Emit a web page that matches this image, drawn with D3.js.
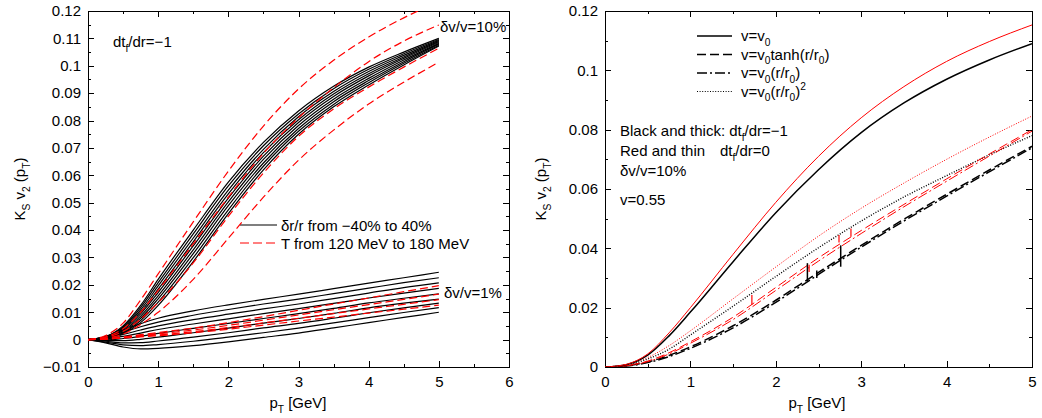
<!DOCTYPE html>
<html><head><meta charset="utf-8">
<script src="https://cdn.jsdelivr.net/npm/d3@7"></script>
<style>
body{margin:0;background:#fff}
svg{display:block}
text{font-family:"Liberation Sans",Arial,Helvetica,sans-serif;fill:#000}
</style>
</head><body>
<svg id="c" width="1042" height="418"></svg>
<script>
// ---------------- DATA ----------------
const pT = [0, 0.25, 0.5, 0.75, 1, 1.5, 2, 2.5, 3, 3.5, 4, 4.5, 5];

// Left panel, dv/v = 10 %, black: dr/r from -40% to 40%
const wideDr_m40 = [0, .0011, .0050, .0125, .0220, .0400, .0575, .0720, .0835, .0925, .0995, .1050, .1100];
const wideDr_m30 = [0, .0010, .0046, .0117, .0208, .0386, .0561, .0708, .0824, .0916, .0987, .1044, .1096];
const wideDr_m20 = [0, .0010, .0043, .0109, .0196, .0371, .0546, .0695, .0814, .0906, .0979, .1038, .1093];
const wideDr_m10 = [0, .0009, .0040, .0101, .0184, .0357, .0532, .0683, .0803, .0897, .0971, .1032, .1089];
const wideDr_0   = [0, .0008, .0036, .0094, .0172, .0342, .0517, .0670, .0793, .0888, .0963, .1027, .1086];
const wideDr_p10 = [0, .0007, .0032, .0086, .0160, .0328, .0503, .0658, .0782, .0878, .0954, .1021, .1082];
const wideDr_p20 = [0, .0007, .0029, .0078, .0149, .0314, .0489, .0645, .0771, .0869, .0946, .1015, .1079];
const wideDr_p30 = [0, .0006, .0025, .0070, .0137, .0299, .0474, .0633, .0761, .0859, .0938, .1009, .1075];
const wideDr_p40 = [0, .0005, .0022, .0062, .0125, .0285, .0460, .0620, .0750, .0850, .0930, .1003, .1072];

// Left panel, dv/v = 10 %, red: T from 120 to 180 MeV
const wideT120 = [0, .0015, .0060, .0145, .0240, .0430, .0615, .0780, .0915, .1020, .1105, .1175, .1235];
const wideT140 = [0, .0010, .0040, .0100, .0180, .0350, .0520, .0680, .0810, .0920, .1015, .1090, .1149];
const wideT160 = [0, .0008, .0030, .0075, .0135, .0280, .0450, .0608, .0742, .0842, .0922, .0995, .1064];
const wideT180 = [0, .0005, .0020, .0055, .0100, .0220, .0370, .0520, .0655, .0765, .0860, .0940, .1013];

// Left panel, dv/v = 1 %, black
const narrowDr_m40 = [0, .0010, .0035, .0058, .0078, .0105, .0127, .0147, .0166, .0186, .0206, .0226, .0246];
const narrowDr_m30 = [0, .0007, .0027, .0047, .0064, .0089, .0110, .0130, .0148, .0168, .0188, .0208, .0226];
const narrowDr_m20 = [0, .0005, .0019, .0035, .0050, .0073, .0093, .0112, .0130, .0150, .0170, .0190, .0207];
const narrowDr_m10 = [0, .0002, .0012, .0024, .0037, .0057, .0076, .0095, .0113, .0132, .0152, .0170, .0187];
const narrowDr_0   = [0, -.0001, .0004, .0012, .0023, .0041, .0059, .0077, .0095, .0114, .0134, .0151, .0167];
const narrowDr_p10 = [0, -.0003, -.0004, .0001, .0009, .0025, .0042, .0060, .0077, .0096, .0116, .0133, .0148];
const narrowDr_p20 = [0, -.0006, -.0012, -.0011, -.0005, .0009, .0025, .0043, .0059, .0078, .0098, .0116, .0133];
const narrowDr_p30 = [0, -.0009, -.0019, -.0022, -.0018, -.0006, .0009, .0025, .0042, .0061, .0080, .0099, .0117];
const narrowDr_p40 = [0, -.0012, -.0027, -.0034, -.0032, -.0022, -.0008, .0008, .0024, .0043, .0062, .0081, .0100];

// Left panel, dv/v = 1 %, red
const narrowT120 = [0, .0003, .0010, .0018, .0026, .0042, .0062, .0084, .0107, .0130, .0152, .0175, .0197];
const narrowT140 = [0, .0003, .0009, .0015, .0021, .0035, .0052, .0071, .0090, .0109, .0128, .0147, .0166];
const narrowT160 = [0, .0002, .0007, .0012, .0017, .0029, .0044, .0061, .0078, .0095, .0112, .0129, .0146];
const narrowT180 = [0, .0002, .0006, .0010, .0014, .0025, .0038, .0053, .0068, .0082, .0097, .0111, .0126];

// Right panel: black thick (dt/dr=-1), red thin (dt/dr=0)
const constThick   = [0, .0008, .0040, .0105, .0185, .0355, .0520, .0665, .0790, .0890, .0970, .1035, .1090];
const tanhThick    = [0, .0004, .0017, .0039, .0068, .0139, .0225, .0319, .0410, .0498, .0582, .0664, .0744];
const linearThick  = [0, .0003, .0015, .0035, .0063, .0132, .0218, .0312, .0404, .0492, .0576, .0658, .0739];
const squareThick  = [0, .0006, .0027, .0060, .0108, .0205, .0305, .0402, .0492, .0573, .0645, .0715, .0780];
const constThin    = [0, .0009, .0044, .0115, .0200, .0380, .0555, .0710, .0840, .0945, .1030, .1097, .1153];
const tanhThin     = [0, .0005, .0020, .0048, .0085, .0168, .0268, .0368, .0460, .0548, .0634, .0718, .0800];
const linearThin   = [0, .0004, .0018, .0044, .0080, .0160, .0258, .0357, .0450, .0540, .0626, .0711, .0795];
const squareThin   = [0, .0008, .0032, .0072, .0122, .0230, .0337, .0441, .0535, .0620, .0700, .0775, .0846];

// numerical glitches (pT, low, high)
const blackGlitches = [[2.37, .0288, .0350], [2.48, .0300, .0325], [2.76, .0338, .0410]];
const redGlitches   = [[1.72, .0210, .0243], [2.39, .0320, .0345], [2.74, .0420, .0445], [2.88, .0439, .0467]];

// ticks
const leftXTicks = [0, 1, 2, 3, 4, 5, 6];
const leftXLabels = ["0", "1", "2", "3", "4", "5", "6"];
const leftXMinor = [0.5, 1.5, 2.5, 3.5, 4.5, 5.5];
const leftYTicks = [-0.01, 0, 0.01, 0.02, 0.03, 0.04, 0.05, 0.06, 0.07, 0.08, 0.09, 0.1, 0.11, 0.12];
const leftYLabels = ["\u22120.01", "0", "0.01", "0.02", "0.03", "0.04", "0.05", "0.06", "0.07", "0.08", "0.09", "0.1", "0.11", "0.12"];
const leftYMinor = [-0.005, 0.005, 0.015, 0.025, 0.035, 0.045, 0.055, 0.065, 0.075, 0.085, 0.095, 0.105, 0.115];
const rightXTicks = [0, 1, 2, 3, 4, 5];
const rightXLabels = ["0", "1", "2", "3", "4", "5"];
const rightXMinor = [0.5, 1.5, 2.5, 3.5, 4.5];
const rightYTicks = [0, 0.02, 0.04, 0.06, 0.08, 0.1, 0.12];
const rightYLabels = ["0", "0.02", "0.04", "0.06", "0.08", "0.1", "0.12"];
const rightYMinor = [0.01, 0.03, 0.05, 0.07, 0.09, 0.11];

// ---------------- DRAW ----------------
const svg = d3.select("#c");
const FS = 15;

function makePanel(cfg) {
  const x = d3.scaleLinear().domain(cfg.xDomain).range([cfg.left, cfg.right]);
  const y = d3.scaleLinear().domain(cfg.yDomain).range([cfg.bottom, cfg.top]);
  svg.append("clipPath").attr("id", cfg.id).append("rect")
    .attr("x", cfg.left).attr("y", cfg.top)
    .attr("width", cfg.right - cfg.left).attr("height", cfg.bottom - cfg.top);
  const g = svg.append("g");
  const style = sel => {
    sel.select(".domain").remove();
    sel.selectAll("line").attr("stroke", "#000").attr("stroke-width", 1).attr("shape-rendering", "crispEdges");
    sel.selectAll("text").attr("font-size", FS).attr("font-family", '"Liberation Sans",Arial,sans-serif').attr("fill", "#000");
    sel.attr("font-size", null).attr("font-family", null);
  };
  const ax = (gen, tx, ty) => g.append("g").attr("transform", `translate(${tx},${ty})`).call(gen).call(style);
  ax(d3.axisBottom(x).tickValues(cfg.xTicks).tickFormat((d, i) => cfg.xLabels[i]).tickSizeInner(-6).tickSizeOuter(0).tickPadding(9), 0, cfg.bottom);
  ax(d3.axisBottom(x).tickValues(cfg.xMinor).tickFormat("").tickSizeInner(-3).tickSizeOuter(0), 0, cfg.bottom);
  ax(d3.axisTop(x).tickValues(cfg.xTicks).tickFormat("").tickSizeInner(-6).tickSizeOuter(0), 0, cfg.top);
  ax(d3.axisTop(x).tickValues(cfg.xMinor).tickFormat("").tickSizeInner(-3).tickSizeOuter(0), 0, cfg.top);
  ax(d3.axisLeft(y).tickValues(cfg.yTicks).tickFormat((d, i) => cfg.yLabels[i]).tickSizeInner(-6).tickSizeOuter(0).tickPadding(7), cfg.left, 0);
  ax(d3.axisLeft(y).tickValues(cfg.yMinor).tickFormat("").tickSizeInner(-3).tickSizeOuter(0), cfg.left, 0);
  ax(d3.axisRight(y).tickValues(cfg.yTicks).tickFormat("").tickSizeInner(-6).tickSizeOuter(0), cfg.right, 0);
  ax(d3.axisRight(y).tickValues(cfg.yMinor).tickFormat("").tickSizeInner(-3).tickSizeOuter(0), cfg.right, 0);
  // remove empty label nodes from label-less axes
  g.selectAll("text").filter(function() { return !this.textContent; }).remove();
  g.append("rect").attr("x", cfg.left).attr("y", cfg.top)
    .attr("width", cfg.right - cfg.left).attr("height", cfg.bottom - cfg.top)
    .attr("fill", "none").attr("stroke", "#000").attr("stroke-width", 1).attr("shape-rendering", "crispEdges");
  const plot = svg.append("g").attr("clip-path", `url(#${cfg.id})`);
  const line = d3.line().x(d => x(d[0])).y(d => y(d[1])).curve(d3.curveMonotoneX);
  const curve = (vals, color, w, dash) => plot.append("path")
    .attr("d", line(pT.map((p, i) => [p, vals[i]])))
    .attr("fill", "none").attr("stroke", color).attr("stroke-width", w)
    .attr("stroke-dasharray", dash || null);
  return {x, y, g, plot, curve};
}

// text with sub/superscripts; baseline restored on the following span
function richText(parent, x, y, parts, size, anchor) {
  const t = parent.append("text").attr("x", x).attr("y", y).attr("font-size", size).attr("text-anchor", anchor || "start");
  let shift = 0;
  parts.forEach(p => {
    if (typeof p === "string") {
      t.append("tspan").attr("dy", -shift || null).text(p);
      shift = 0;
    } else if (p.sub) {
      const d = size * 0.3;
      t.append("tspan").attr("font-size", size * 0.68).attr("dy", d - shift).text(p.sub);
      shift = d;
    } else if (p.sup) {
      const d = -size * 0.45;
      t.append("tspan").attr("font-size", size * 0.68).attr("dy", d - shift).text(p.sup);
      shift = d;
    }
  });
  return t;
}

const RED = "#ff0000";

// ----- Left panel -----
const L = makePanel({id: "clipL", left: 88, right: 509, top: 11, bottom: 367,
  xDomain: [0, 6], yDomain: [-0.01, 0.12],
  xTicks: leftXTicks, xLabels: leftXLabels, xMinor: leftXMinor,
  yTicks: leftYTicks, yLabels: leftYLabels, yMinor: leftYMinor});

[wideDr_m40, wideDr_m30, wideDr_m20, wideDr_m10, wideDr_0, wideDr_p10, wideDr_p20, wideDr_p30, wideDr_p40,
 narrowDr_m40, narrowDr_m30, narrowDr_m20, narrowDr_m10, narrowDr_0, narrowDr_p10, narrowDr_p20, narrowDr_p30, narrowDr_p40]
  .forEach(v => L.curve(v, "#000", 1.2));
[wideT120, wideT140, wideT160, wideT180, narrowT120, narrowT140, narrowT160, narrowT180]
  .forEach(v => L.curve(v, RED, 1.2, "8,4"));

// legend left
L.g.append("line").attr("x1", 240).attr("x2", 277).attr("y1", 225).attr("y2", 225).attr("stroke", "#000").attr("stroke-width", 1.2);
L.g.append("line").attr("x1", 240).attr("x2", 277).attr("y1", 243).attr("y2", 243).attr("stroke", RED).attr("stroke-width", 1.2).attr("stroke-dasharray", "9,4");
richText(L.g, 281, 230.5, ["\u03b4r/r from \u221240% to 40%"], FS);
richText(L.g, 281, 248.5, ["T from 120 MeV to 180 MeV"], FS);
richText(L.g, 113, 47, ["dt", {sub: "f"}, "/dr=\u22121"], FS);
richText(L.g, 440, 32, ["\u03b4v/v=10%"], FS);
richText(L.g, 444, 297.5, ["\u03b4v/v=1%"], FS);
// axis titles
richText(L.g, 298, 408, ["p", {sub: "T"}, " [GeV]"], FS, "middle");
richText(L.g, 0, 0, ["K", {sub: "S"}, " v", {sub: "2"}, " (p", {sub: "T"}, ")"], FS, "middle")
  .attr("transform", "translate(25,189) rotate(-90)");

// ----- Right panel -----
const R = makePanel({id: "clipR", left: 605, right: 1032, top: 11, bottom: 367,
  xDomain: [0, 5], yDomain: [0, 0.12],
  xTicks: rightXTicks, xLabels: rightXLabels, xMinor: rightXMinor,
  yTicks: rightYTicks, yLabels: rightYLabels, yMinor: rightYMinor});

const DASH = "9,4", DASHDOT = "10,3,2,3", DOT = "1,1.6";
R.curve(squareThin, RED, 1, DOT);
R.curve(squareThick, "#000", 1.4, DOT);
R.curve(tanhThick, "#000", 1.5, DASH);
R.curve(linearThick, "#000", 1.5, DASHDOT);
R.curve(tanhThin, RED, 1, DASH);
R.curve(linearThin, RED, 1, DASHDOT);
R.curve(constThick, "#000", 1.5);
R.curve(constThin, RED, 1);
blackGlitches.forEach(d => R.plot.append("line").attr("x1", R.x(d[0])).attr("x2", R.x(d[0]))
  .attr("y1", R.y(d[1])).attr("y2", R.y(d[2])).attr("stroke", "#000").attr("stroke-width", 1.5));
redGlitches.forEach(d => R.plot.append("line").attr("x1", R.x(d[0])).attr("x2", R.x(d[0]))
  .attr("y1", R.y(d[1])).attr("y2", R.y(d[2])).attr("stroke", RED).attr("stroke-width", 1.2));

// legend right
const legRows = [
  {dash: null, y: 36, parts: ["v=v", {sub: "0"}]},
  {dash: DASH, y: 54.5, parts: ["v=v", {sub: "0"}, "tanh(r/r", {sub: "0"}, ")"]},
  {dash: DASHDOT, y: 73, parts: ["v=v", {sub: "0"}, "(r/r", {sub: "0"}, ")"]},
  {dash: DOT, y: 91.5, parts: ["v=v", {sub: "0"}, "(r/r", {sub: "0"}, ")", {sup: "2"}]}
];
legRows.forEach(r => {
  R.g.append("line").attr("x1", 697).attr("x2", 732).attr("y1", r.y).attr("y2", r.y)
    .attr("stroke", "#000").attr("stroke-width", r.dash === DOT ? 1.2 : 1.5).attr("stroke-dasharray", r.dash);
  richText(R.g, 741, r.y + 5, r.parts, FS);
});
richText(R.g, 620, 136, ["Black and thick: dt", {sub: "f"}, "/dr=\u22121"], FS);
richText(R.g, 620, 156, ["Red and thin"], FS);
richText(R.g, 720, 156, ["dt", {sub: "f"}, "/dr=0"], FS);
richText(R.g, 620, 176, ["\u03b4v/v=10%"], FS);
richText(R.g, 620, 205, ["v=0.55"], FS);
richText(R.g, 817, 408, ["p", {sub: "T"}, " [GeV]"], FS, "middle");
richText(R.g, 0, 0, ["K", {sub: "S"}, " v", {sub: "2"}, " (p", {sub: "T"}, ")"], FS, "middle")
  .attr("transform", "translate(546,189) rotate(-90)");
</script>
</body></html>
